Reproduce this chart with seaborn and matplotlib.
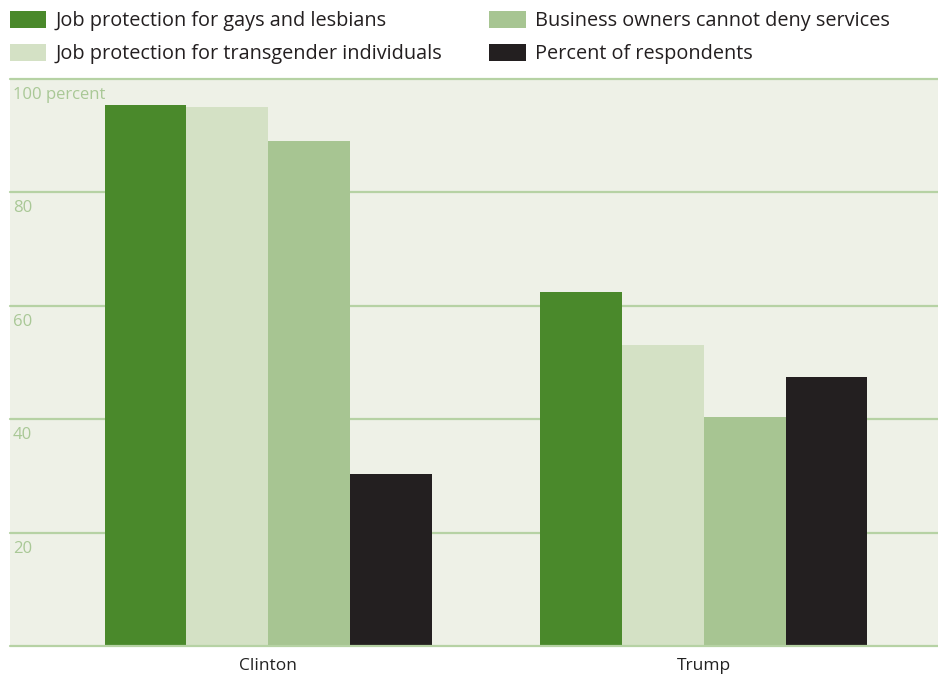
import matplotlib
matplotlib.use("Agg")
import matplotlib.pyplot as plt
import seaborn as sns
import pandas as pd

candidates = ["Clinton", "Trump"]
series = ["Job protection for gays and lesbians",
          "Job protection for transgender individuals",
          "Business owners cannot deny services",
          "Percent of respondents"]
gays = [95.5, 62.5]
transgender = [95.0, 53.0]
business = [89.0, 40.3]
respondents = [30.3, 47.5]
yticks = [20, 40, 60, 80, 100]
ytick_labels = ["20", "40", "60", "80", "100 percent"]

colors = ["#4a892b", "#d4e1c5", "#a7c592", "#231f20"]

rows = []
for vals, name in zip([gays, transgender, business, respondents], series):
    for c, v in zip(candidates, vals):
        rows.append({"candidate": c, "series": name, "value": v})
df = pd.DataFrame(rows)

sns.set_theme(style="white")
plt.rcParams['font.family'] = ['Open Sans', 'DejaVu Sans']

fig = plt.figure(figsize=(9.38, 6.76), dpi=100)
fig.patch.set_facecolor("white")
ax = fig.add_axes([10/938, 30/676, 1 - 10/938, (646 - 79)/676])
ax.set_facecolor("#eef1e7")
ax.patch.set_edgecolor("none")

sns.barplot(data=df, x="candidate", y="value", hue="series", hue_order=series,
            order=candidates, palette=colors, width=0.75, saturation=1,
            linewidth=0, ax=ax, zorder=3)

ax.set_ylim(0, 100)
ax.set_xlim(-0.592, 1.537)
for y in yticks:
    ax.axhline(y, color="#b6d2a4", linewidth=1.6, zorder=1, clip_on=False)
ax.axhline(0, color="#b6d2a4", linewidth=1.6, zorder=4, clip_on=False)
ax.set_yticks([])
for y, lab in zip(yticks, ytick_labels):
    ax.text(0.003, y - 1.4, lab, transform=ax.get_yaxis_transform(),
            ha="left", va="top", fontsize=12, color="#a9c896")

ax.set_xlabel("")
ax.set_ylabel("")
ax.tick_params(axis="x", length=0, labelsize=12.5, labelcolor="#222222", pad=9)
for s in ax.spines.values():
    s.set_visible(False)

handles, labels = ax.get_legend_handles_labels()
ax.get_legend().remove()
fig.legend(handles, labels, ncol=2, loc="upper left", bbox_to_anchor=(-0.0055, 1.006),
           frameon=False, fontsize=14.3, handlelength=1.85, handleheight=0.95,
           handletextpad=0.45, columnspacing=2.35, labelspacing=0.62,
           labelcolor="#231f20", borderaxespad=0.35)

fig.savefig("out.png", dpi=100, facecolor="white")
